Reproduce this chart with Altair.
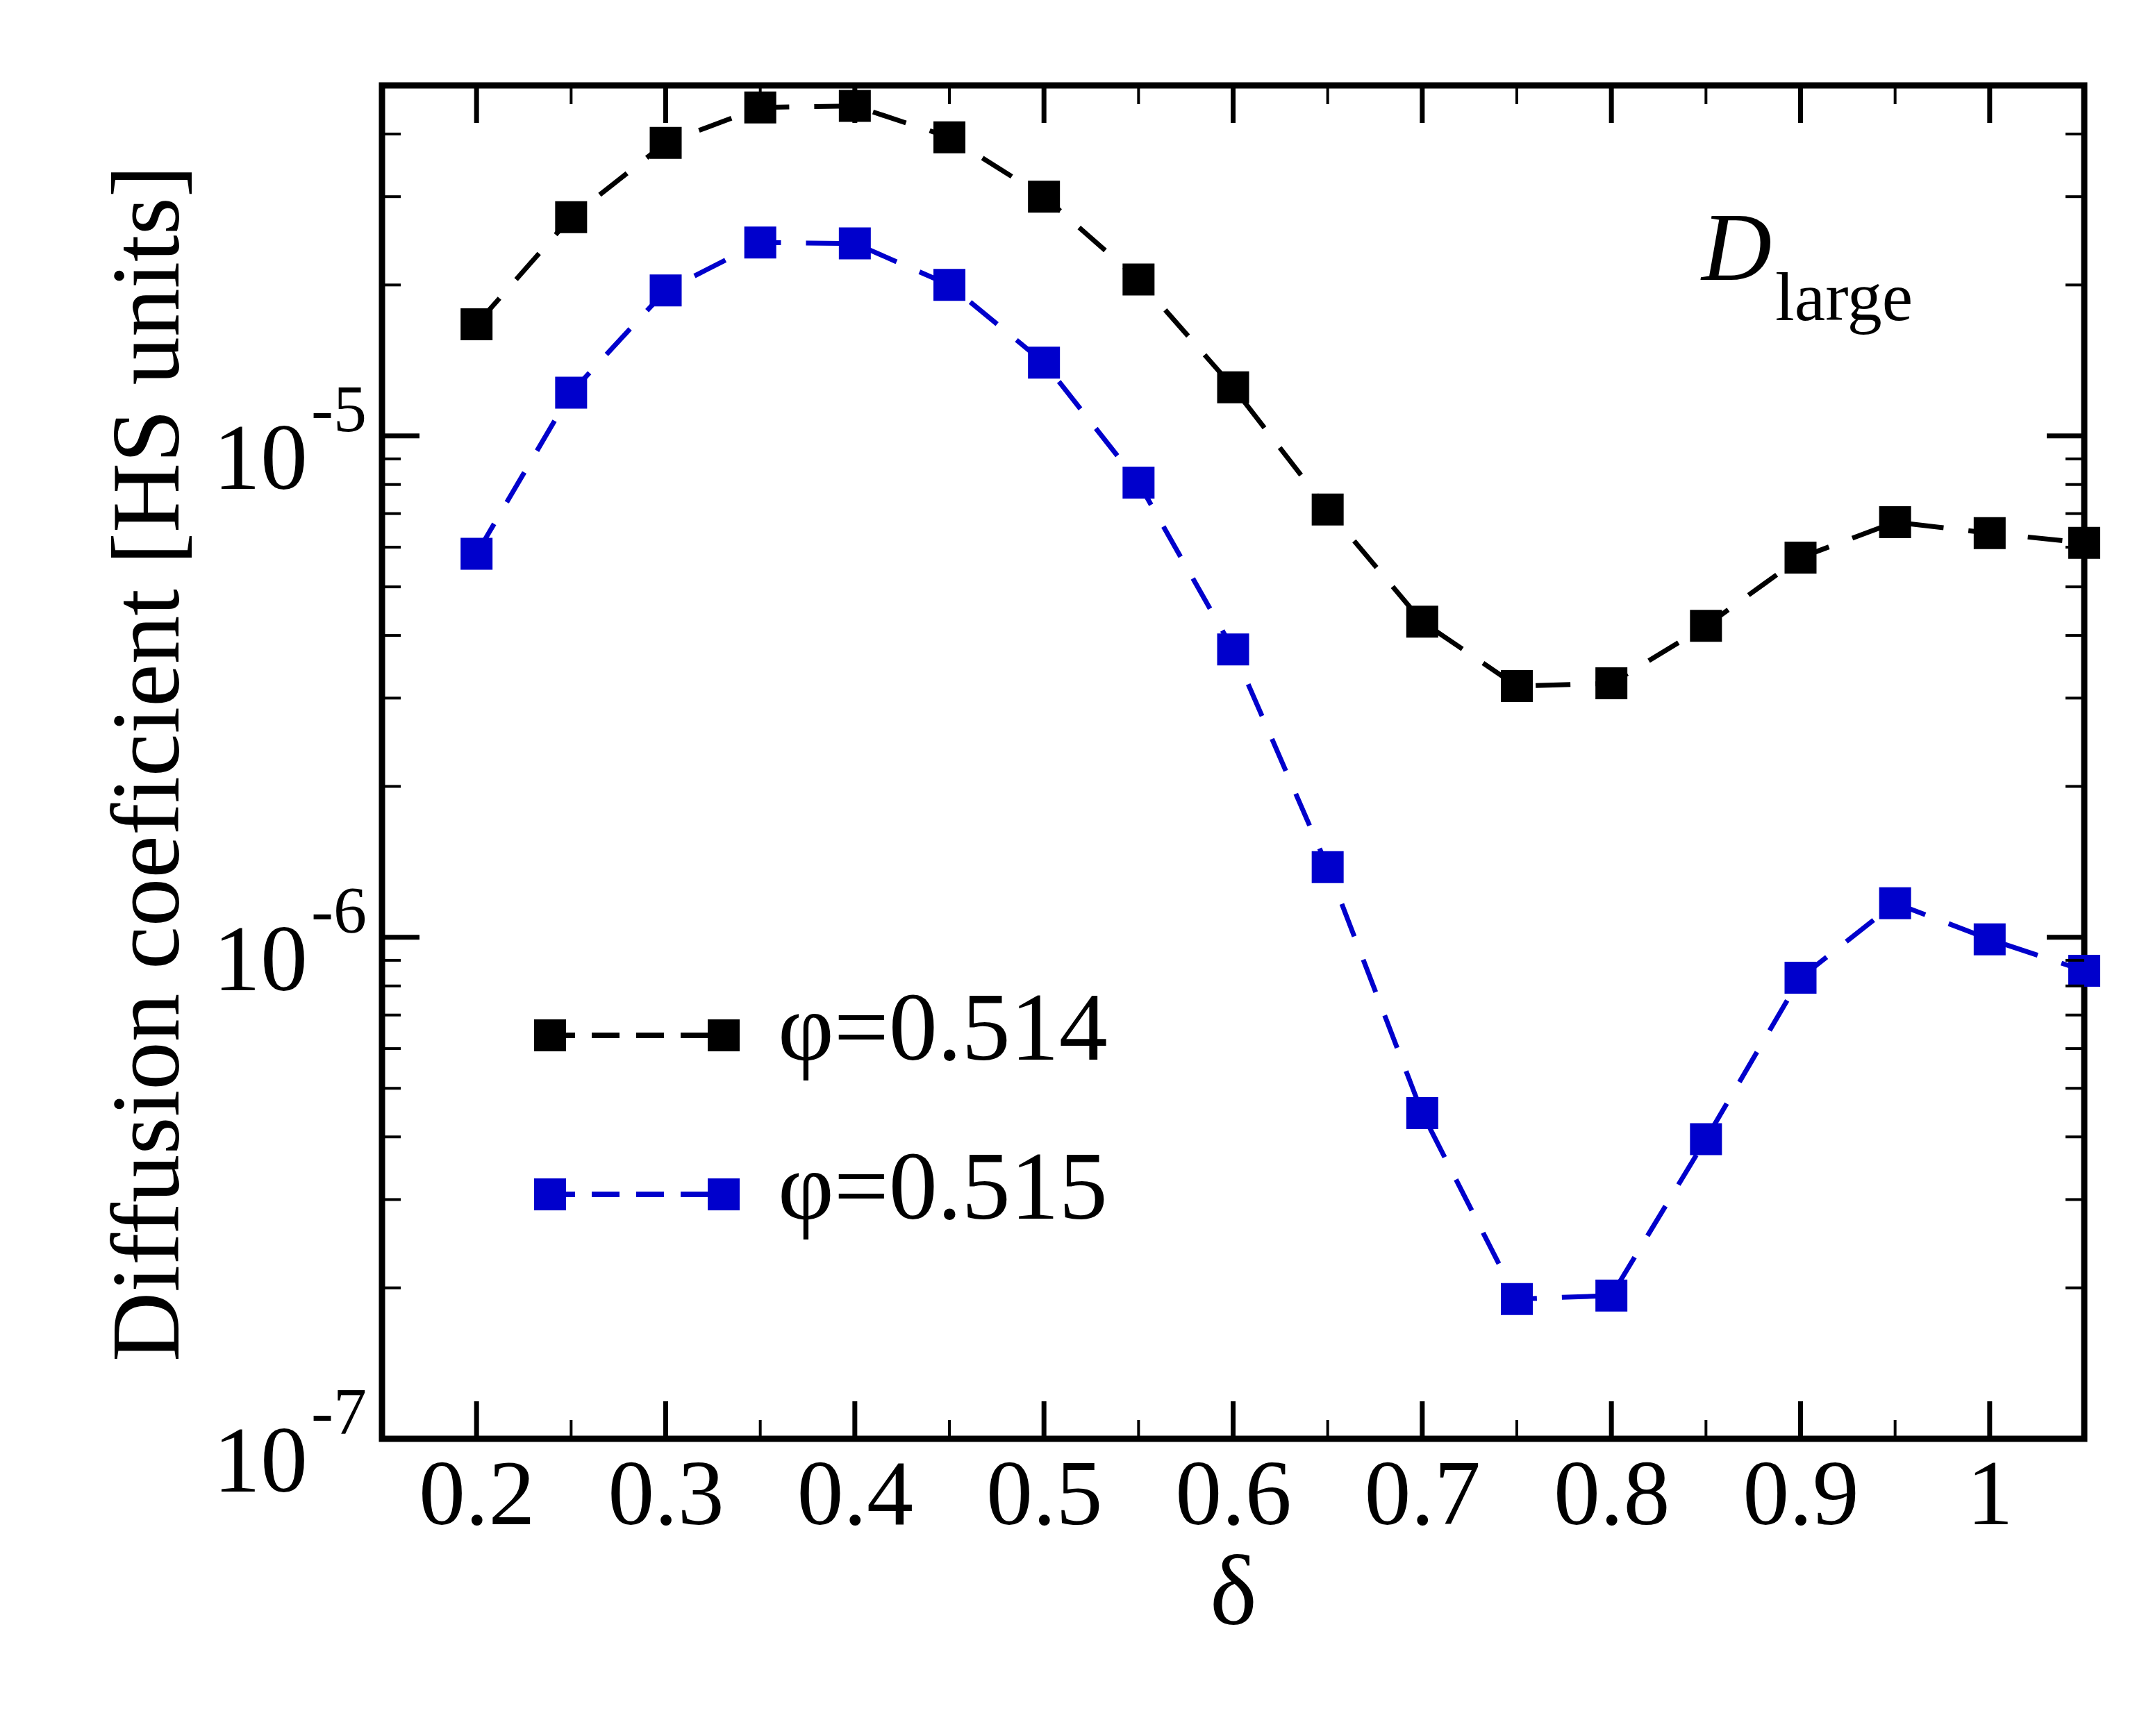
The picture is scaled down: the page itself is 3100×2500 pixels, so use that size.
import altair as alt
import pandas as pd

# ---- data ----
delta = [0.20, 0.25, 0.30, 0.35, 0.40, 0.45, 0.50, 0.55, 0.60,
         0.65, 0.70, 0.75, 0.80, 0.85, 0.90, 0.95, 1.00, 1.05]
D_514 = [1.67e-5, 2.73e-5, 3.84e-5, 4.52e-5, 4.55e-5, 3.94e-5, 3.00e-5, 2.05e-5, 1.25e-5,
         7.13e-6, 4.26e-6, 3.17e-6, 3.21e-6, 4.18e-6, 5.72e-6, 6.73e-6, 6.40e-6, 6.12e-6]
D_515 = [5.82e-6, 1.22e-5, 1.95e-5, 2.43e-5, 2.42e-5, 2.00e-5, 1.40e-5, 8.07e-6, 3.75e-6,
         1.38e-6, 4.46e-7, 1.90e-7, 1.93e-7, 3.96e-7, 8.31e-7, 1.17e-6, 9.91e-7, 8.58e-7]
series_names = ["φ=0.514", "φ=0.515"]
series_colors = ["#000000", "#0000cc"]

x_major = [0.2, 0.3, 0.4, 0.5, 0.6, 0.7, 0.8, 0.9, 1.0]
x_minor = [0.25, 0.35, 0.45, 0.55, 0.65, 0.75, 0.85, 0.95]
y_major = [1e-7, 1e-6, 1e-5]
y_major_exp = ["-7", "-6", "-5"]
y_minor = [2e-7, 3e-7, 4e-7, 5e-7, 6e-7, 7e-7, 8e-7, 9e-7,
           2e-6, 3e-6, 4e-6, 5e-6, 6e-6, 7e-6, 8e-6, 9e-6,
           2e-5, 3e-5, 4e-5]

df = pd.DataFrame({
    "delta": delta * 2,
    "D": D_514 + D_515,
    "series": [series_names[0]] * len(delta) + [series_names[1]] * len(delta),
})
xmaj_df = pd.DataFrame({"delta": x_major})
xmin_df = pd.DataFrame({"delta": x_minor})
ymaj_df = pd.DataFrame({"D": y_major, "base": ["10"] * 3, "exp": y_major_exp})
ymin_df = pd.DataFrame({"D": y_minor})
annot_df = pd.DataFrame({"main": ["D"], "sub": ["large"]})

W, H = 2451, 1949
FONT = "Liberation Serif"
MAJ, MIN = 54, 27

xscale = alt.Scale(domain=[0.15, 1.05], nice=False, zero=False)
yscale = alt.Scale(type="log", domain=[1e-7, 5e-5], nice=False)
cscale = alt.Scale(domain=series_names, range=series_colors)

legend_path = ("M-1,-0.696H1V1.304H-1Z "
               "M1,0.13H1.565V0.478H1Z "
               "M2.609,0.13H4.348V0.478H2.609Z "
               "M5.391,0.13H7.13V0.478H5.391Z "
               "M8.174,0.13H9.913V0.478H8.174Z "
               "M9.87,-0.696H11.87V1.304H9.87Z")

x_axis = alt.Axis(values=x_major, format="~g", labelFont=FONT, labelFontSize=134,
                  labelColor="black", labelPadding=122, labelBaseline="alphabetic",
                  labelOverlap=False, ticks=False, tickSize=0, domain=False, grid=False,
                  title="δ", titleFont=FONT, titleFontSize=144, titleFontWeight="normal",
                  titleColor="black", titleY=266, titleBaseline="alphabetic")
y_axis = alt.Axis(labels=False, ticks=False, tickSize=0, domain=False, grid=False,
                  title="Diffusion coeficient [HS units]", titleFont=FONT,
                  titleFontSize=139, titleFontWeight="normal", titleColor="black",
                  titleX=-294, titleY=976, titleAngle=270,
                  titleBaseline="alphabetic", titleAlign="center")

X = alt.X("delta:Q", scale=xscale, axis=x_axis)
Y = alt.Y("D:Q", scale=yscale, axis=y_axis)

def series_line(name, colour):
    return alt.Chart(df).transform_filter(alt.datum.series == name).mark_line(
        strokeDash=[50, 36], strokeWidth=7, strokeCap="butt", color=colour
    ).encode(x=X, y=Y)

points = alt.Chart(df).mark_point(shape="square", filled=True, size=2116,
                                  opacity=1, strokeWidth=0).encode(
    x=X, y=Y,
    color=alt.Color("series:N", scale=cscale,
                    legend=alt.Legend(title=None, orient="none", legendX=172, legendY=1291,
                                      symbolType=legend_path, symbolSize=2116,
                                      symbolStrokeWidth=0, symbolOpacity=1,
                                      labelFont=FONT, labelFontSize=140, labelColor="black",
                                      labelOffset=258, labelBaseline="middle",
                                      labelLimit=2000, rowPadding=89, padding=0)),
)

def yticks(data, length, width, right=False):
    x0, x1 = (W - length, W) if right else (0, length)
    return alt.Chart(data).mark_rule(color="black", strokeWidth=width, strokeCap="butt").encode(
        y=Y, x=alt.value(x0), x2=alt.value(x1))

def xticks(data, length, width, bottom=True):
    y0, y1 = (H - length, H) if bottom else (0, length)
    return alt.Chart(data).mark_rule(color="black", strokeWidth=width, strokeCap="butt").encode(
        x=X, y=alt.value(y0), y2=alt.value(y1))

ylab_base = alt.Chart(ymaj_df).mark_text(font=FONT, fontSize=136, align="right",
                                         baseline="alphabetic", dy=76, color="black").encode(
    y=Y, x=alt.value(-107), text="base:N")
ylab_exp = alt.Chart(ymaj_df).mark_text(font=FONT, fontSize=96, align="left",
                                        baseline="alphabetic", dy=-7, color="black").encode(
    y=Y, x=alt.value(-102), text="exp:N")

ann_main = alt.Chart(annot_df).mark_text(font=FONT, fontSize=140, fontStyle="italic",
                                         align="left", baseline="alphabetic", color="black").encode(
    x=alt.value(1900), y=alt.value(280), text="main:N")
ann_sub = alt.Chart(annot_df).mark_text(font=FONT, fontSize=100, align="left",
                                        baseline="alphabetic", color="black").encode(
    x=alt.value(2006), y=alt.value(338), text="sub:N")

chart = alt.layer(
    series_line(series_names[0], series_colors[0]),
    series_line(series_names[1], series_colors[1]),
    points,
    yticks(ymaj_df, MAJ, 7), yticks(ymin_df, MIN, 4),
    yticks(ymaj_df, MAJ, 7, right=True), yticks(ymin_df, MIN, 4, right=True),
    xticks(xmaj_df, MAJ, 7), xticks(xmin_df, MIN, 4),
    xticks(xmaj_df, MAJ, 7, bottom=False), xticks(xmin_df, MIN, 4, bottom=False),
    ylab_base, ylab_exp, ann_main, ann_sub,
).properties(
    width=W, height=H,
    autosize=alt.AutoSizeParams(type="none"),
    padding={"left": 542, "top": 115, "right": 60, "bottom": 400},
    background="white",
).configure_view(stroke="black", strokeWidth=9)

chart.save("out.html", embed_options={"renderer": "svg", "actions": False})
